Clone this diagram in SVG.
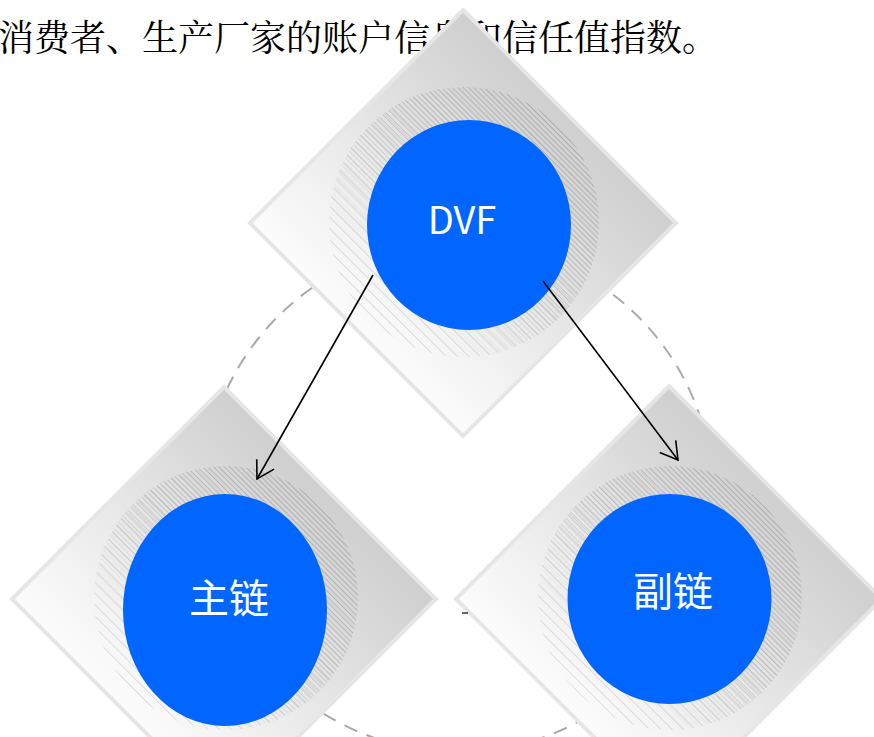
<svg xmlns="http://www.w3.org/2000/svg" width="874" height="737" viewBox="0 0 874 737">
<style>
.dia{fill:url(#dg);stroke:#e6e6e6;stroke-width:4;stroke-linejoin:miter}
.hatch{fill:url(#hp)}
.hatch2{fill:url(#hp2)}
.blue{fill:#0066ff}
.lbl{fill:#ffffff;font-family:"Noto Sans CJK SC","Noto Sans",sans-serif;text-anchor:middle}
.ring{fill:none;stroke:#aaaaaa;stroke-width:2;stroke-dasharray:14 10}
.arr{fill:none;stroke:#000000;stroke-width:1.6;marker-end:url(#ah)}
.top{font-family:"Noto Serif CJK SC","Noto Sans CJK SC",serif;font-size:36px;fill:#000000}
</style>
<defs>
<linearGradient id="dg" x1="1" y1="0" x2="0" y2="1">
<stop offset="0.25" stop-color="#cfcfcf"/>
<stop offset="0.5" stop-color="#e6e6e6"/>
<stop offset="0.75" stop-color="#fcfcfc"/>
</linearGradient>
<pattern id="hp" patternUnits="userSpaceOnUse" width="3.8" height="3.8" patternTransform="rotate(45)">
<rect x="0" y="0" width="3.8" height="0.5" fill="#8a8a8a"/>
</pattern>
<pattern id="hp2" patternUnits="userSpaceOnUse" width="8" height="8" patternTransform="rotate(45)">
<rect x="0" y="0" width="8" height="0.5" fill="#9a9a9a"/>
</pattern>
<linearGradient id="mg" x1="0.85" y1="0.15" x2="0.25" y2="0.75">
<stop offset="0" stop-color="#ffffff"/>
<stop offset="0.5" stop-color="#b0b0b0"/>
<stop offset="1" stop-color="#000000"/>
</linearGradient>
<linearGradient id="mg2" x1="0.85" y1="0.15" x2="0.15" y2="0.85">
<stop offset="0" stop-color="#000000"/>
<stop offset="0.4" stop-color="#909090"/>
<stop offset="1" stop-color="#909090"/>
</linearGradient>
<mask id="hm" maskContentUnits="objectBoundingBox">
<rect x="0" y="0" width="1" height="1" fill="url(#mg)"/>
</mask>
<mask id="hm2" maskContentUnits="objectBoundingBox">
<rect x="0" y="0" width="1" height="1" fill="url(#mg2)"/>
</mask>
<marker id="ah" markerUnits="userSpaceOnUse" markerWidth="24" markerHeight="24" refX="0" refY="0" viewBox="-20 -12 24 24" orient="auto">
<path d="M-17,-10 L0,0 L-17,10" fill="none" stroke="#000000" stroke-width="1.6"/>
</marker>
</defs>

<text class="top" x="-2" y="51">消费者、生产厂家的账户信息和信任值指数。</text>

<circle class="ring" cx="458" cy="497" r="255"/>

<g id="node-dvf">
<polygon class="dia" points="463,10 676,223 463,436 250,223"/>
<circle class="hatch2" cx="464" cy="222" r="135" mask="url(#hm2)"/>
<circle class="hatch" cx="464" cy="222" r="135" mask="url(#hm)"/>
<ellipse class="blue" cx="469" cy="225" rx="102" ry="105"/>
<text class="lbl" x="462" y="234" font-size="38">DVF</text>
</g>

<g id="node-main">
<polygon class="dia" points="224,387 436,599 224,811 12,599"/>
<circle class="hatch2" cx="226" cy="598" r="132" mask="url(#hm2)"/>
<circle class="hatch" cx="226" cy="598" r="132" mask="url(#hm)"/>
<ellipse class="blue" cx="225" cy="610" rx="102" ry="116"/>
<text class="lbl" x="229" y="613" font-size="40">主链</text>
</g>

<g id="node-side">
<polygon class="dia" points="669,386 882,599 669,812 456,599"/>
<circle class="hatch2" cx="670" cy="598" r="132" mask="url(#hm2)"/>
<circle class="hatch" cx="670" cy="598" r="132" mask="url(#hm)"/>
<ellipse class="blue" cx="669.5" cy="599" rx="102" ry="105"/>
<text class="lbl" x="673" y="606" font-size="40">副链</text>
</g>

<g id="connectors">
<path class="arr" d="M373,275 L257,479"/>
<path class="arr" d="M543,281 L678,460"/>
<path d="M462,613 L468,613" stroke="#000000" stroke-width="1.2" fill="none"/>
</g>
</svg>
